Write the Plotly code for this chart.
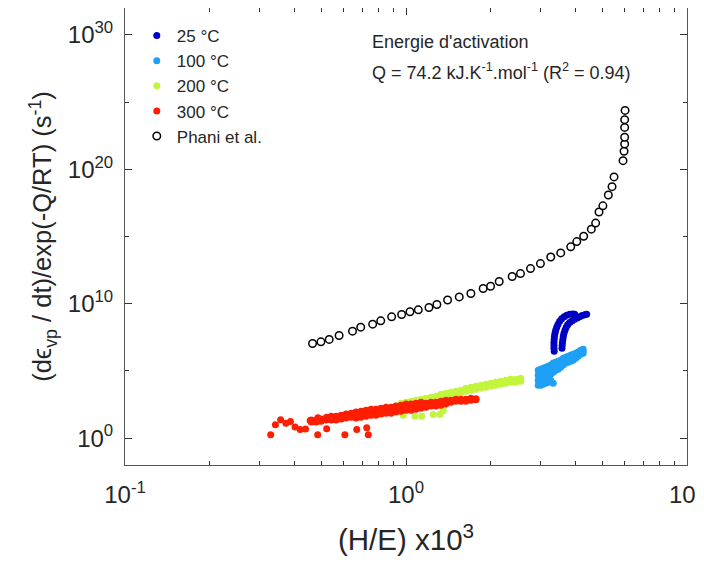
import plotly.graph_objects as go

# ---------------- data ----------------
# 25 °C : two hook-shaped branches
t25_a_x = [3.368, 3.362, 3.362, 3.362, 3.368, 3.376, 3.390, 3.410, 3.438, 3.475, 3.523, 3.581, 3.655, 3.731, 3.824, 3.919, 3.984]
t25_a_y = [2.9e6, 4.9e6, 8.2e6, 1.37e7, 2.3e7, 3.8e7, 6.4e7, 1.07e8, 1.79e8, 3.0e8, 5.0e8, 7.7e8, 1.08e9, 1.40e9, 1.66e9, 1.75e9, 1.66e9]
t25_b_x = [3.590, 3.596, 3.605, 3.617, 3.628, 3.649, 3.679, 3.716, 3.761, 3.824, 3.903, 3.984, 4.066, 4.150, 4.236, 4.324, 4.395]
t25_b_y = [4.9e6, 8.2e6, 1.37e7, 2.3e7, 3.8e7, 6.4e7, 1.07e8, 1.79e8, 2.75e8, 4.0e8, 5.4e8, 7.0e8, 8.8e8, 1.08e9, 1.33e9, 1.52e9, 1.66e9]

# 100 °C : band
t100_x = [2.954, 3.016, 3.078, 3.142, 3.207, 3.273, 3.341, 3.410, 3.480, 3.552, 3.625, 3.700, 3.777, 3.854, 3.934, 4.015, 4.098, 4.183, 4.269]
t100_y_top = [1.14e5, 1.35e5, 1.6e5, 1.9e5, 2.25e5, 2.7e5, 3.8e5, 4.5e5, 5.3e5, 6.3e5, 8.9e5, 1.05e6, 1.25e6, 1.48e6, 1.76e6, 2.1e6, 2.5e6, 3.5e6, 4.1e6]
t100_y_mid = [4.8e4, 5.7e4, 6.8e4, 8.1e4, 9.6e4, 1.35e5, 1.9e5, 2.25e5, 2.7e5, 3.8e5, 5.3e5, 6.3e5, 7.5e5, 8.9e5, 1.05e6, 1.25e6, 1.76e6, 2.5e6, 2.9e6]
t100_y_low = [2.05e4, 2.4e4, 2.9e4, 3.4e4, 4.1e4, 5.7e4, 8.1e4, 1.14e5, 1.35e5, 1.9e5, 2.7e5, 3.8e5, 4.5e5, 5.3e5, 6.3e5, 8.9e5, 1.25e6, 1.76e6, 2.1e6]
t100_extra_x = [2.954, 3.016, 3.078, 3.142, 3.207, 3.273, 3.341]
t100_extra_y = [8.7e3, 8.7e3, 1.03e4, 1.23e4, 1.46e4, 2.05e4, 1.23e4]

# 200 °C : band + a few low points
t200_x = [0.960, 1.000, 1.042, 1.085, 1.131, 1.178, 1.227, 1.278, 1.331, 1.387, 1.445, 1.505, 1.568, 1.633, 1.702,
          1.773, 1.847, 1.924, 2.004, 2.087, 2.175, 2.265, 2.360, 2.458, 2.561]
t200_y_top = [400, 470, 560, 670, 790, 940, 1120, 1330, 1870, 2200, 2600, 3100, 3700, 5200, 6200,
              7300, 8700, 1.03e4, 1.23e4, 1.46e4, 1.73e4, 2.05e4, 2.4e4, 2.4e4, 2.9e4]
t200_y_low = [280, 340, 400, 470, 560, 670, 790, 940, 1120, 1330, 1570, 1870, 2200, 3100, 3700,
              4400, 5200, 6200, 7300, 8700, 1.03e4, 1.23e4, 1.46e4, 1.46e4, 1.73e4]
t200_out_x = [0.978, 1.076, 1.137, 1.250, 1.320, 1.357]
t200_out_y = [51, 43, 43, 57, 57, 115]

# 300 °C : band + scattered low points
t300_x = [0.460, 0.479, 0.499, 0.520, 0.542, 0.564, 0.588, 0.612, 0.638, 0.664, 0.692, 0.721, 0.751, 0.782,
          0.815, 0.849, 0.885, 0.921, 0.960, 1.000, 1.042, 1.085, 1.131, 1.178, 1.227, 1.278, 1.331, 1.387,
          1.445, 1.505, 1.568, 1.633, 1.702, 1.773]
t300_y_top = [22, 22, 26, 31, 43, 43, 51, 61, 72, 86, 100, 120, 140, 140, 170, 200, 200, 240, 280, 340,
              340, 400, 470, 400, 470, 470, 560, 670, 670, 790, 790, 790, 940, 860]
t300_y_mid = [18, 18, 22, 26, 31, 31, 36, 43, 51, 51, 61, 72, 86, 86, 100, 120, 120, 140, 170, 200,
              200, 240, 280, 280, 340, 340, 400, 470, 560, 670, 670, 670, 790, 790]
t300_y_low = [15.5, 15.5, 18, 22, 22, 22, 26, 31, 36, 31, 36, 43, 51, 51, 61, 72, 72, 86, 100, 120,
              120, 140, 170, 200, 240, 240, 280, 340, 470, 560, 560, 560, 670, 720]
t300_out_x = [0.330, 0.343, 0.358, 0.374, 0.388, 0.403, 0.420, 0.439, 0.456, 0.485, 0.486, 0.522, 0.522,
              0.606, 0.668, 0.734, 0.725]
t300_out_y = [1.76, 9.75, 22.9, 13.0, 17.4, 6.6, 4.4, 4.7, 20.7, 1.76, 32.3, 4.9, 36.4, 1.76, 4.4, 1.76, 5.8]

# Phani et al.
phani_x = [0.465, 0.498, 0.533, 0.578, 0.645, 0.690, 0.761, 0.813, 0.889, 0.965, 1.033, 1.106, 1.207, 1.288,
           1.406, 1.547, 1.702, 1.882, 2.00, 2.146, 2.387, 2.555, 2.774, 3.009, 3.274, 3.553, 3.857, 4.052,
           4.289, 4.566, 4.73, 4.862, 5.02, 5.248, 5.41, 5.50, 5.92, 5.97, 6.0, 6.0, 6.0, 6.0, 6.02]
phani_y = [1.1e7, 1.45e7, 2.2e7, 4.3e7, 9.1e7, 1.8e8, 3.0e8, 5.3e8, 1.05e9, 1.56e9, 2.5e9, 3.5e9, 5.2e9, 8.7e9,
           1.9e10, 3.2e10, 5.7e10, 1.35e11, 2.0e11, 4.5e11, 1.05e12, 1.75e12, 4.1e12, 9.7e12, 3.0e13, 6.0e13,
           1.7e14, 4.2e14, 1.05e15, 3.5e15, 1.0e16, 6.7e16, 1.9e17, 1.23e18, 5.1e18, 2.7e19, 4.4e20, 2.2e21,
           7.6e21, 2.4e22, 1.3e23, 4.9e23, 2.4e24]

series_names = ["25 °C", "100 °C", "200 °C", "300 °C", "Phani et al."]
x_tick_vals = [0.1, 1, 10]
x_tick_text = ["10<sup>-1</sup>", "10<sup>0</sup>", "10<sup>1</sup>"]
x_minor_vals = [0.2, 0.3, 0.4, 0.5, 0.6, 0.7, 0.8, 0.9, 2, 3, 4, 5, 6, 7, 8, 9]
y_tick_vals = [1, 1e10, 1e20, 1e30]
y_tick_text = ["10<sup>0</sup>", "10<sup>10</sup>", "10<sup>20</sup>", "10<sup>30</sup>"]
y_minor_vals = [1e5, 1e15, 1e25]

# ---------------- assemble ----------------
c25, c100, c200, c300 = "#0000C4", "#1EA0F5", "#C2F53C", "#FF1E00"
FONT = "Liberation Sans, Arial, sans-serif"
TXT = "#262626"

x25 = t25_a_x + t25_b_x
y25 = t25_a_y + t25_b_y
x100 = t100_x * 3 + t100_extra_x
y100 = t100_y_top + t100_y_mid + t100_y_low + t100_extra_y
x200 = t200_x * 2 + t200_out_x
y200 = t200_y_top + t200_y_low + t200_out_y
x300 = t300_x * 3 + t300_out_x
y300 = t300_y_top + t300_y_mid + t300_y_low + t300_out_y

fig = go.Figure()
for name, xs, ys, col in [(series_names[0], x25, y25, c25),
                          (series_names[1], x100, y100, c100),
                          (series_names[2], x200, y200, c200),
                          (series_names[3], x300, y300, c300)]:
    fig.add_trace(go.Scatter(x=xs, y=ys, mode="markers", name=name,
                             marker=dict(size=7, color=col, line=dict(width=0))))
fig.add_trace(go.Scatter(x=phani_x, y=phani_y, mode="markers", name=series_names[4],
                         marker=dict(size=7.5, color="white", symbol="circle",
                                     line=dict(width=1.5, color="black"))))

axis_common = dict(type="log", showgrid=False, zeroline=False, showline=True,
                   linecolor="#555555", linewidth=1, mirror="allticks",
                   ticks="inside", ticklen=7, tickwidth=1, tickcolor="#333333",
                   tickfont=dict(family=FONT, size=24, color=TXT),
                   tickmode="array", automargin=False, ticklabeloverflow="allow")

# the page body adds an 8 px offset, so margins are set to place the frame
# at x 125..687.5 and y 8..465 in the final picture
fig.update_layout(
    width=704, height=563,
    margin=dict(l=117, r=24.5, t=0, b=106),
    paper_bgcolor="white", plot_bgcolor="white",
    font=dict(family=FONT, color=TXT),
    showlegend=True,
    legend=dict(x=0.021, y=0.978, xanchor="left", yanchor="top",
                bgcolor="rgba(0,0,0,0)", borderwidth=0,
                font=dict(family=FONT, size=17, color=TXT),
                itemsizing="trace"),
    xaxis=dict(axis_common, range=[-1, 1], tickvals=x_tick_vals, ticktext=x_tick_text,
               ticklabelstandoff=8,
               minor=dict(tickvals=x_minor_vals, ticks="inside", ticklen=4, tickcolor="#333333"),
               title=dict(text="(H/E) x10<sup>3</sup>", font=dict(family=FONT, size=29.5, color=TXT),
                          standoff=22)),
    yaxis=dict(axis_common, range=[-2, 32], tickvals=y_tick_vals, ticktext=y_tick_text,
               ticklabelstandoff=6,
               minor=dict(tickvals=y_minor_vals, ticks="inside", ticklen=4, tickcolor="#333333"),
               title=dict(text="(d\u03f5<sub>vp</sub> / dt)/exp(-Q/RT) (s<sup>-1</sup>)",
                          font=dict(family=FONT, size=25.5, color=TXT), standoff=8)),
)

fig.add_annotation(text="Energie d'activation", xref="paper", yref="paper",
                   x=0.436, y=0.926, xanchor="left", yanchor="middle", showarrow=False,
                   font=dict(family=FONT, size=18, color=TXT))
fig.add_annotation(text="Q = 74.2 kJ.K<sup>-1</sup>.mol<sup>-1</sup> (R<sup>2</sup> = 0.94)",
                   xref="paper", yref="paper",
                   x=0.436, y=0.862, xanchor="left", yanchor="middle", showarrow=False,
                   font=dict(family=FONT, size=18, color=TXT))

fig.write_html("out.html")
